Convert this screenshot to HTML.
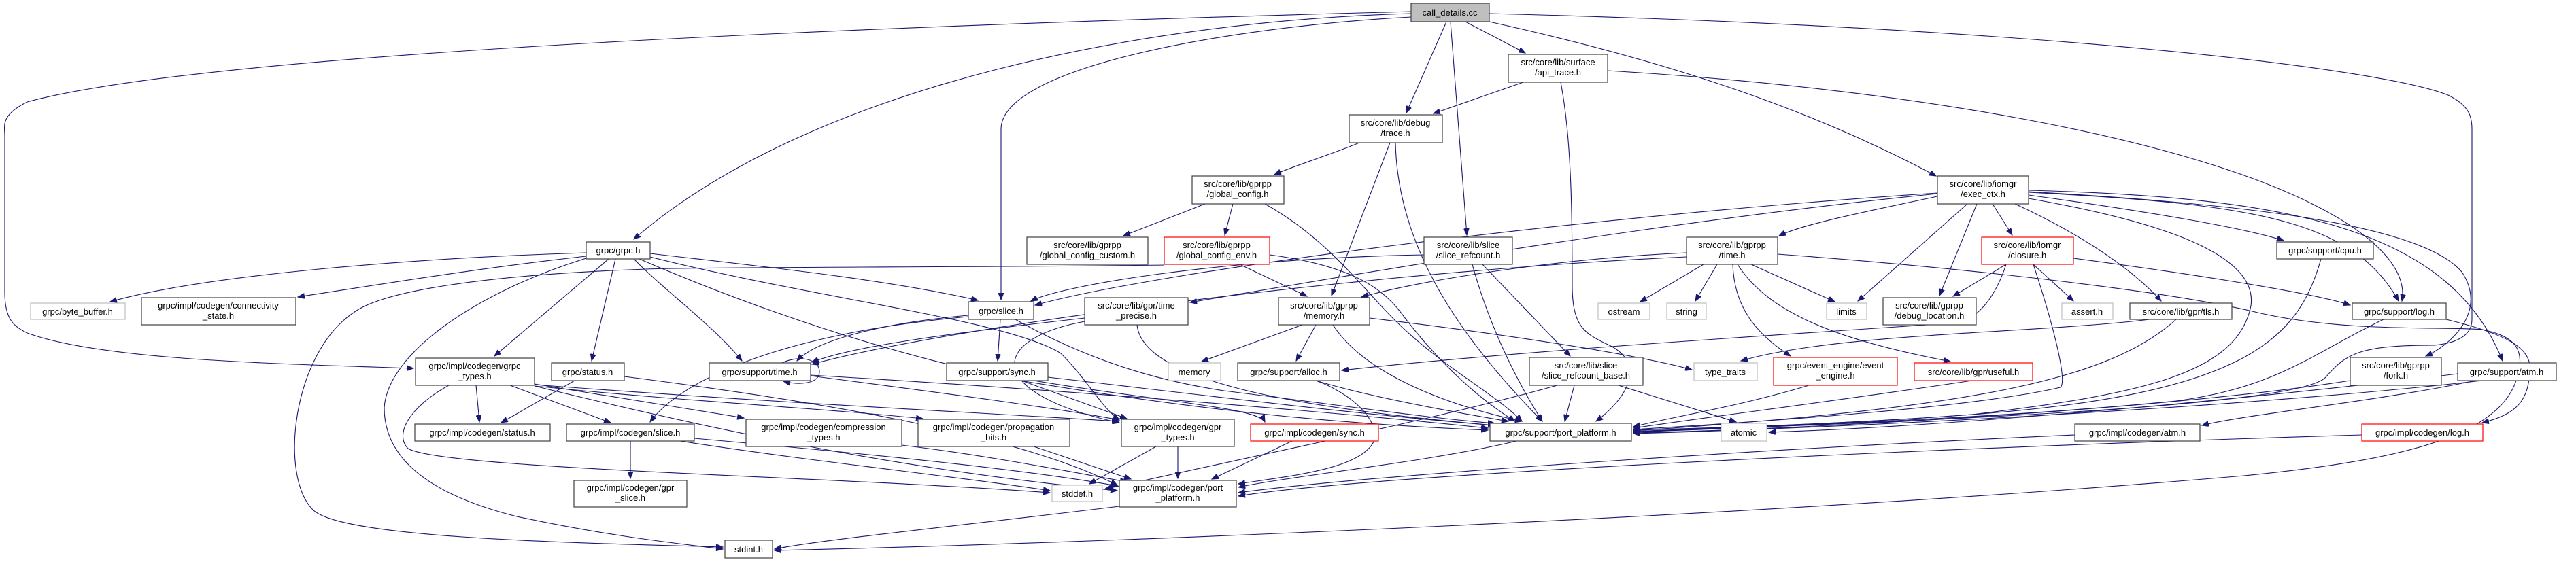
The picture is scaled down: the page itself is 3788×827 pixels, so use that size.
<!DOCTYPE html>
<html><head><meta charset="utf-8"><style>
html,body{margin:0;padding:0;background:#fff}
svg{display:block}
text{font-family:"Liberation Sans",sans-serif;font-size:13px;fill:#000}
.e{fill:none;stroke:#191970;stroke-width:1.1}
.n{fill:#fff;stroke:#404040;stroke-width:1.2}
.g{fill:#fff;stroke:#bfbfbf;stroke-width:1.2}
.r{fill:#fff;stroke:#ff0000;stroke-width:1.2}
</style></head><body>
<svg width="3788" height="827" viewBox="0 0 3788 827" xmlns="http://www.w3.org/2000/svg">
<defs><marker id="a" markerWidth="11" markerHeight="8" refX="10" refY="4" orient="auto" markerUnits="userSpaceOnUse"><path d="M0,0 L10,4 L0,8 z" fill="#191970" stroke="#191970"/></marker></defs>
<g marker-end="url(#a)">
<path class="e" d="M2075,20 C1700,30 1200,120 932,352"/>
<path class="e" d="M2075,17 C1200,40 300,80 40,150 C0,170 7,185 7,200 L7,430 C7,470 20,480 40,490 C150,530 400,535 608,542"/>
<path class="e" d="M2075,25 C1800,40 1472,100 1472,190 L1472,441"/>
<path class="e" d="M2127,32 L2068,166"/>
<path class="e" d="M2133,32 L2157,346"/>
<path class="e" d="M2155,32 L2243,78"/>
<path class="e" d="M2190,32 C2500,100 2700,180 2847,259"/>
<path class="e" d="M2190,20 C3000,40 3500,100 3600,140 C3630,155 3635,170 3635,190 L3635,470 C3635,495 3610,505 3580,508 C3470,508 3450,520 3420,555 C3380,600 2800,620 2402,636"/>
<path class="e" d="M2240,121 L2108,167"/>
<path class="e" d="M2295,121 C2310,200 2312,300 2312,420 C2312,480 2330,490 2360,505 C2420,530 2400,580 2347,620"/>
<path class="e" d="M2364,104 C2800,130 3200,200 3400,300 C3500,350 3540,400 3532,443"/>
<path class="e" d="M1999,210 C1950,230 1900,245 1874,257"/>
<path class="e" d="M2044,210 L1958,435"/>
<path class="e" d="M2052,210 C2055,350 2130,480 2268,620"/>
<path class="e" d="M1772,300 L1652,347"/>
<path class="e" d="M1813,300 L1801,346"/>
<path class="e" d="M1860,300 C1950,350 2000,420 2050,470 C2120,540 2200,580 2238,620"/>
<path class="e" d="M1823,389 L1922,436"/>
<path class="e" d="M1867,375 C1980,390 2030,420 2060,460 C2120,540 2180,590 2228,620"/>
<path class="e" d="M1712,390 C1500,393 1000,393 950,396 C700,405 560,430 520,460 C430,520 410,700 460,750 C500,790 800,798 1063,805"/>
<path class="e" d="M2180,389 L2309,524"/>
<path class="e" d="M2165,389 C2190,480 2230,560 2268,620"/>
<path class="e" d="M2094,375 C1800,380 1560,420 1516,443"/>
<path class="e" d="M862,372 C600,380 300,405 162,444"/>
<path class="e" d="M862,377 C700,395 550,420 438,437"/>
<path class="e" d="M895,381 L727,524"/>
<path class="e" d="M905,381 L870,531"/>
<path class="e" d="M932,381 C980,430 1050,480 1091,531"/>
<path class="e" d="M956,373 C1100,390 1300,410 1438,442"/>
<path class="e" d="M956,378 C1200,440 1480,470 1560,520 C1600,560 1620,600 1646,618"/>
<path class="e" d="M862,380 C700,430 570,520 565,600 C565,680 640,730 760,760 C900,790 1000,800 1063,808"/>
<path class="e" d="M940,381 C1100,450 1300,520 1500,560 C1800,610 2000,625 2188,633"/>
<path class="e" d="M700,567 L705,621"/>
<path class="e" d="M750,567 L898,622"/>
<path class="e" d="M786,565 L1094,615"/>
<path class="e" d="M786,568 C1000,590 1200,600 1357,616"/>
<path class="e" d="M786,566 C1100,590 1400,605 1645,620"/>
<path class="e" d="M660,567 C600,600 580,640 600,660 C650,690 1200,700 1544,725"/>
<path class="e" d="M786,568 C1000,620 1300,690 1643,722"/>
<path class="e" d="M845,560 L737,622"/>
<path class="e" d="M918,554 C1200,590 1500,640 1643,714"/>
<path class="e" d="M927,649 L927,704"/>
<path class="e" d="M1000,649 C1200,680 1400,700 1544,722"/>
<path class="e" d="M1021,645 C1300,670 1500,690 1643,715"/>
<path class="e" d="M1150,534 C1175,522 1205,528 1205,547 C1205,565 1175,567 1152,561"/>
<path class="e" d="M1192,553 C1400,580 1550,600 1646,618"/>
<path class="e" d="M1192,552 C1500,570 1900,600 2188,630"/>
<path class="e" d="M1471,470 L1467,531"/>
<path class="e" d="M1424,464 C1300,475 1200,500 1172,531"/>
<path class="e" d="M1424,466 C1150,490 1000,560 956,621"/>
<path class="e" d="M1493,470 C1600,530 1700,560 1800,575 C2000,600 2100,615 2198,623"/>
<path class="e" d="M1502,560 L1657,616"/>
<path class="e" d="M1520,560 C1700,590 1850,600 1860,621"/>
<path class="e" d="M1541,555 C1800,585 2000,610 2198,626"/>
<path class="e" d="M1326,655 C1450,670 1550,690 1657,709"/>
<path class="e" d="M1520,657 L1663,705"/>
<path class="e" d="M1700,657 L1602,712"/>
<path class="e" d="M1732,657 L1732,704"/>
<path class="e" d="M1900,649 L1782,705"/>
<path class="e" d="M1646,745 C1400,775 1200,795 1139,808"/>
<path class="e" d="M2230,649 C2100,680 1900,700 1821,717"/>
<path class="e" d="M2614,374 C2900,395 3200,430 3320,460 C3450,490 3600,480 3650,485 C3700,495 3715,515 3700,560 C3670,650 3500,680 3300,700 C2600,760 1600,800 1139,810"/>
<path class="e" d="M3597,470 C3680,490 3720,510 3720,540 C3720,590 3700,610 3650,622"/>
<path class="e" d="M1915,478 L1767,532"/>
<path class="e" d="M1935,478 L1906,531"/>
<path class="e" d="M2014,468 C2200,490 2400,520 2488,544"/>
<path class="e" d="M1960,478 C2000,540 2100,590 2238,620"/>
<path class="e" d="M1935,560 C2000,580 2100,600 2218,620"/>
<path class="e" d="M1935,560 C1990,580 2030,620 2020,650 C2000,690 1900,700 1821,712"/>
<path class="e" d="M2315,567 L2301,620"/>
<path class="e" d="M2380,567 L2553,621"/>
<path class="e" d="M2290,567 C2100,620 1800,680 1624,720"/>
<path class="e" d="M2505,389 L2412,444"/>
<path class="e" d="M2525,389 L2493,443"/>
<path class="e" d="M2575,389 L2698,444"/>
<path class="e" d="M2548,389 C2550,450 2580,490 2633,524"/>
<path class="e" d="M2555,389 C2600,460 2700,500 2868,532"/>
<path class="e" d="M2480,372 C2300,380 2100,410 2002,437"/>
<path class="e" d="M2480,378 C2000,400 1400,480 1194,536"/>
<path class="e" d="M2660,567 C2550,600 2450,615 2402,628"/>
<path class="e" d="M2900,560 C2700,590 2500,615 2402,630"/>
<path class="e" d="M1595,468 C1400,490 1250,510 1194,533"/>
<path class="e" d="M1672,478 C1680,560 1900,600 2198,626"/>
<path class="e" d="M1595,473 C1450,500 1450,580 1646,622"/>
<path class="e" d="M2849,289 C2750,310 2650,330 2616,347"/>
<path class="e" d="M2849,284 C2300,320 1700,400 1522,449"/>
<path class="e" d="M2849,285 C2400,330 1900,420 1750,445"/>
<path class="e" d="M2893,300 L2732,443"/>
<path class="e" d="M2907,300 L2852,435"/>
<path class="e" d="M2930,300 L2959,346"/>
<path class="e" d="M2963,300 C3050,340 3130,390 3178,443"/>
<path class="e" d="M2983,287 C3150,310 3300,335 3358,354"/>
<path class="e" d="M2983,283 C3300,300 3460,320 3527,443"/>
<path class="e" d="M2983,282 C3300,300 3560,330 3620,400 C3660,460 3600,510 3567,524"/>
<path class="e" d="M2983,280 C3350,290 3600,330 3680,531"/>
<path class="e" d="M2983,292 C3200,330 3320,380 3310,450 C3290,550 3150,580 2900,610 C2700,625 2500,630 2402,633"/>
<path class="e" d="M2950,389 C2930,450 2900,470 2880,475 C2500,500 2200,520 1973,545"/>
<path class="e" d="M2950,389 L2872,436"/>
<path class="e" d="M2990,389 L3049,443"/>
<path class="e" d="M3049,380 C3200,400 3400,430 3456,449"/>
<path class="e" d="M2990,389 C3020,480 3040,560 3030,570 C2900,600 2600,620 2402,632"/>
<path class="e" d="M3200,470 C3100,560 2900,600 2402,634"/>
<path class="e" d="M3161,470 C3000,490 2700,490 2560,531"/>
<path class="e" d="M3413,381 C3380,500 3300,580 2900,610 C2700,625 2450,632 2402,635"/>
<path class="e" d="M3505,470 C3400,520 3350,570 3200,590 C2900,620 2500,630 2402,636"/>
<path class="e" d="M3456,560 C3200,600 2700,630 2402,637"/>
<path class="e" d="M3640,560 C3500,590 3300,610 3238,626"/>
<path class="e" d="M3650,560 C3300,600 2700,630 2402,638"/>
<path class="e" d="M3614,550 C3200,600 2800,630 2601,636"/>
<path class="e" d="M3051,640 C2600,660 2000,700 1821,725"/>
<path class="e" d="M3473,640 C2800,660 2000,700 1821,730"/>
</g>
<g text-anchor="middle">
<rect x="2075" y="5" width="115" height="27" fill="#bfbfbf" stroke="#404040" stroke-width="1.2"/><text x="2132" y="23">call_details.cc</text>
<rect class="n" x="862" y="356" width="94" height="25"/><text x="909" y="373">grpc/grpc.h</text>
<rect class="g" x="45" y="446" width="139" height="24"/><text x="114" y="463">grpc/byte_buffer.h</text>
<rect class="n" x="208" y="438" width="227" height="40"/><text x="321" y="454">grpc/impl/codegen/connectivity</text><text x="321" y="469">_state.h</text>
<rect class="n" x="611" y="527" width="175" height="40"/><text x="698" y="543">grpc/impl/codegen/grpc</text><text x="698" y="558">_types.h</text>
<rect class="n" x="811" y="534" width="107" height="26"/><text x="864" y="552">grpc/status.h</text>
<rect class="n" x="610" y="624" width="199" height="25"/><text x="709" y="641">grpc/impl/codegen/status.h</text>
<rect class="n" x="833" y="624" width="188" height="25"/><text x="927" y="641">grpc/impl/codegen/slice.h</text>
<rect class="n" x="844" y="707" width="166" height="39"/><text x="927" y="722">grpc/impl/codegen/gpr</text><text x="927" y="737">_slice.h</text>
<rect class="n" x="1753" y="259" width="135" height="41"/><text x="1820" y="275">src/core/lib/gprpp</text><text x="1820" y="290">/global_config.h</text>
<rect class="n" x="1510" y="349" width="178" height="40"/><text x="1599" y="365">src/core/lib/gprpp</text><text x="1599" y="380">/global_config_custom.h</text>
<rect class="r" x="1712" y="349" width="155" height="40"/><text x="1789" y="365">src/core/lib/gprpp</text><text x="1789" y="380">/global_config_env.h</text>
<rect class="n" x="1424" y="444" width="96" height="26"/><text x="1472" y="462">grpc/slice.h</text>
<rect class="n" x="1595" y="438" width="152" height="40"/><text x="1671" y="454">src/core/lib/gpr/time</text><text x="1671" y="469">_precise.h</text>
<rect class="g" x="1718" y="534" width="77" height="26"/><text x="1756" y="552">memory</text>
<rect class="n" x="1820" y="534" width="150" height="26"/><text x="1895" y="552">grpc/support/alloc.h</text>
<rect class="n" x="1043" y="534" width="149" height="26"/><text x="1117" y="552">grpc/support/time.h</text>
<rect class="n" x="1392" y="534" width="149" height="26"/><text x="1466" y="552">grpc/support/sync.h</text>
<rect class="n" x="1097" y="617" width="229" height="40"/><text x="1211" y="633">grpc/impl/codegen/compression</text><text x="1211" y="648">_types.h</text>
<rect class="n" x="1350" y="617" width="223" height="40"/><text x="1461" y="633">grpc/impl/codegen/propagation</text><text x="1461" y="648">_bits.h</text>
<rect class="n" x="1649" y="617" width="166" height="40"/><text x="1732" y="633">grpc/impl/codegen/gpr</text><text x="1732" y="648">_types.h</text>
<rect class="r" x="1839" y="624" width="188" height="25"/><text x="1933" y="641">grpc/impl/codegen/sync.h</text>
<rect class="g" x="1547" y="714" width="74" height="24"/><text x="1584" y="731">stddef.h</text>
<rect class="n" x="1646" y="707" width="172" height="39"/><text x="1732" y="722">grpc/impl/codegen/port</text><text x="1732" y="737">_platform.h</text>
<rect class="n" x="1066" y="795" width="70" height="26"/><text x="1101" y="813">stdint.h</text>
<rect class="n" x="1880" y="438" width="134" height="40"/><text x="1947" y="454">src/core/lib/gprpp</text><text x="1947" y="469">/memory.h</text>
<rect class="n" x="2218" y="80" width="146" height="41"/><text x="2291" y="96">src/core/lib/surface</text><text x="2291" y="111">/api_trace.h</text>
<rect class="n" x="1984" y="169" width="137" height="41"/><text x="2052" y="185">src/core/lib/debug</text><text x="2052" y="200">/trace.h</text>
<rect class="n" x="2094" y="349" width="130" height="40"/><text x="2159" y="365">src/core/lib/slice</text><text x="2159" y="380">/slice_refcount.h</text>
<rect class="n" x="2480" y="349" width="134" height="40"/><text x="2547" y="365">src/core/lib/gprpp</text><text x="2547" y="380">/time.h</text>
<rect class="g" x="2350" y="446" width="76" height="24"/><text x="2388" y="463">ostream</text>
<rect class="g" x="2451" y="446" width="58" height="24"/><text x="2480" y="463">string</text>
<rect class="g" x="2686" y="446" width="59" height="24"/><text x="2715" y="463">limits</text>
<rect class="n" x="2769" y="438" width="137" height="40"/><text x="2837" y="454">src/core/lib/gprpp</text><text x="2837" y="469">/debug_location.h</text>
<rect class="n" x="2249" y="526" width="167" height="41"/><text x="2332" y="542">src/core/lib/slice</text><text x="2332" y="557">/slice_refcount_base.h</text>
<rect class="g" x="2491" y="534" width="93" height="26"/><text x="2537" y="552">type_traits</text>
<rect class="r" x="2608" y="526" width="182" height="41"/><text x="2699" y="542">grpc/event_engine/event</text><text x="2699" y="557">_engine.h</text>
<rect class="r" x="2815" y="534" width="174" height="26"/><text x="2902" y="552">src/core/lib/gpr/useful.h</text>
<rect class="n" x="2191" y="623" width="208" height="26"/><text x="2295" y="641">grpc/support/port_platform.h</text>
<rect class="g" x="2531" y="623" width="67" height="26"/><text x="2564" y="641">atomic</text>
<rect class="n" x="2849" y="259" width="134" height="41"/><text x="2916" y="275">src/core/lib/iomgr</text><text x="2916" y="290">/exec_ctx.h</text>
<rect class="r" x="2914" y="349" width="135" height="40"/><text x="2981" y="365">src/core/lib/iomgr</text><text x="2981" y="380">/closure.h</text>
<rect class="g" x="3032" y="446" width="75" height="24"/><text x="3069" y="463">assert.h</text>
<rect class="n" x="3132" y="446" width="150" height="24"/><text x="3207" y="463">src/core/lib/gpr/tls.h</text>
<rect class="n" x="3348" y="356" width="142" height="25"/><text x="3419" y="373">grpc/support/cpu.h</text>
<rect class="n" x="3459" y="446" width="138" height="24"/><text x="3528" y="463">grpc/support/log.h</text>
<rect class="n" x="3456" y="526" width="134" height="41"/><text x="3523" y="542">src/core/lib/gprpp</text><text x="3523" y="557">/fork.h</text>
<rect class="n" x="3614" y="534" width="145" height="26"/><text x="3686" y="552">grpc/support/atm.h</text>
<rect class="n" x="3051" y="624" width="184" height="25"/><text x="3143" y="641">grpc/impl/codegen/atm.h</text>
<rect class="r" x="3473" y="624" width="178" height="25"/><text x="3562" y="641">grpc/impl/codegen/log.h</text>
</g>
</svg>
</body></html>
